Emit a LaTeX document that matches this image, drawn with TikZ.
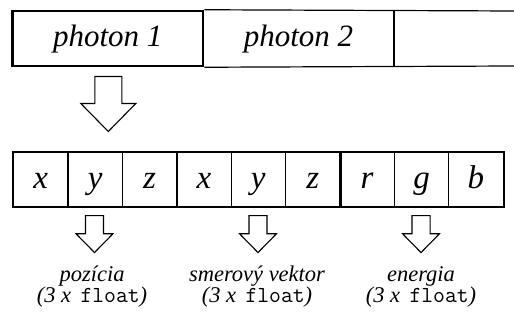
\documentclass[tikz,border=0pt]{standalone}
\usepackage{fontspec}
\setmainfont{Liberation Serif}
\begin{document}
\begin{tikzpicture}[x=1pt,y=-1pt,
  thin line/.style={line width=1.2pt},
  cell/.style={draw, line width=1.2pt, minimum width=54.4pt, minimum height=54pt,
    inner sep=0pt, text height=23pt, text depth=5.8pt,
    font=\fontsize{33}{36}\selectfont\itshape},
  topcell/.style={minimum width=190.5pt, minimum height=55pt, inner sep=0pt,
    text height=22pt, text depth=5.6pt, font=\fontsize{31}{34}\selectfont\itshape},
  label/.style={align=center, anchor=base, font=\fontsize{22.5}{21.5}\selectfont\itshape},
  blockarrow/.style={draw, line width=1.1pt, fill=white, line join=miter}]
\newcommand\flt{{\fontsize{23}{21.5}\selectfont\ttfamily\upshape float}}
\useasboundingbox (0,0) rectangle (514,320);
% top row
\node[topcell, draw, line width=2.5pt] (p1) at (107.75,38.5) {photon 1};
\node[topcell] (p2) at (298.5,38.5) {photon 2};
\coordinate (rtop) at (514,11);
\coordinate (rbot) at (514,66);
\draw[thin line] (p1.north east) -- (rtop);
\draw[thin line] (p1.south east) -- (rbot);
\draw[thin line] (p2.north east) -- (p2.south east);
% block arrows
\newcommand\bkarrow[4]{% name, cx, top, scale
  \path[blockarrow] ({#2-13.5*#4},{#3}) coordinate (#1top)
    -- ({#2+13.5*#4},{#3}) -- ({#2+13.5*#4},{#3+27*#4}) -- ({#2+27.5*#4},{#3+27*#4})
    -- ({#2},{#3+55*#4}) coordinate (#1tip) -- ({#2-27.5*#4},{#3+27*#4})
    -- ({#2-13.5*#4},{#3+27*#4}) -- cycle;}
\bkarrow{big}{108.3}{76.5}{1}
% bottom row
\foreach \t [count=\i] in {x,y,z,x,y,z,r,g,b}{
  \node[cell] (c\i) at ({13.5+54.4*(\i-0.5)},179.7) {\t};
}
\draw[line width=2.2pt] (c3.north east) -- (c3.south east);
\draw[line width=2.2pt] (c6.north east) -- (c6.south east);
\draw[line width=1.6pt] (c1.north west) rectangle (c9.south east);
% small arrows
\bkarrow{a}{94.5}{215.7}{0.67}
\bkarrow{b}{258}{215.7}{0.67}
\bkarrow{c}{421}{215.7}{0.67}
% labels (anchor base = last line)
\node[label] (l1) at (92,303) {pozícia\\(3 x\, \flt)};
\node[label] (l2) at (257,303) {smerový vektor\\(3 x\, \flt)};
\node[label] (l3) at (421,303) {energia\\(3 x\, \flt)};
\end{tikzpicture}
\end{document}
